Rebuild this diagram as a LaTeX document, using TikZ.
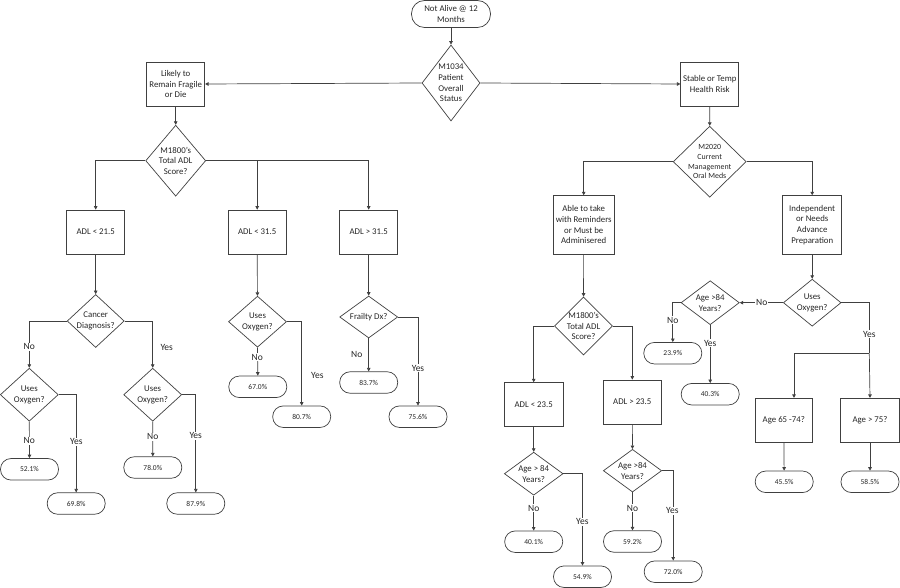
\documentclass[tikz,border=0pt]{standalone}
\usepackage{fontspec}
\setmainfont{Carlito}
\usetikzlibrary{shapes.geometric,arrows.meta}
\begin{document}
\begin{tikzpicture}[x=1pt,y=-1pt,
  line width=0.7pt, color=black!75,
  every node/.style={font=\fontsize{8.8}{10.7}\selectfont, align=center, inner sep=0pt, text=black!85},
  box/.style={draw, rectangle, minimum width=58, minimum height=44},
  dia/.style={draw, diamond, minimum width=58, minimum height=53},
  dt/.style={font=\fontsize{8.8}{10.7}\selectfont, align=center},
  dtsmall/.style={font=\fontsize{7.9}{9.7}\selectfont, align=center},
  term/.style={draw, rectangle, rounded corners=10.5, minimum width=58, minimum height=21.5, font=\fontsize{7.5}{9}\selectfont},
  arr/.style={-{Triangle[length=3.5pt,width=3.5pt]}},
  yn/.style={font=\fontsize{9.5}{11}\selectfont, fill=white, inner sep=1pt},
  ynb/.style={font=\fontsize{9.5}{11}\selectfont, inner sep=1pt}
]
\useasboundingbox (0,0) rectangle (900,588);

% ---- top ----
\node[term, minimum width=79, minimum height=27, rounded corners=13, font=\fontsize{8.8}{10.7}\selectfont] (start) at (451,14) {Not Alive @ 12\\Months};
\node[dia, minimum width=58, minimum height=76, label={[dt]center:M1034\\Patient\\Overall\\Status}] (m1034) at (451,83) {};
\node[box] (likely) at (175.7,84) {Likely to\\Remain Fragile\\or Die};
\node[box] (stable) at (709.8,84) {Stable or Temp\\Health Risk};

% ---- left half ----
\node[dia, minimum width=60, minimum height=71, label={[dt]center:M1800's\\Total ADL\\Score?}] (m1800a) at (175.7,160.7) {};
\node[box] (adl1) at (95.7,232) {ADL < 21.5};
\node[box] (adl2) at (257.2,232) {ADL < 31.5};
\node[box] (adl3) at (368.7,232) {ADL > 31.5};

\node[dia, minimum width=57, minimum height=53, label={[dt]center:Cancer\\Diagnosis?}] (cancer) at (95.7,321) {};
\node[dia, label={[dt]center:Uses\\Oxygen?}] (uo1) at (29.3,394.7) {};
\node[dia, label={[dt]center:Uses\\Oxygen?}] (uo2) at (152.7,394.7) {};
\node[term] (p521) at (29.5,469.3) {52.1\%};
\node[term] (p698) at (76.2,503.5) {69.8\%};
\node[term] (p780) at (152.8,467.5) {78.0\%};
\node[term] (p879) at (195.8,503.5) {87.9\%};

\node[dia, minimum height=51, label={[dt]center:Uses\\Oxygen?}] (uo3) at (257.5,321.7) {};
\node[term] (p670) at (257.8,386.8) {67.0\%};
\node[term] (p807) at (301.7,416.7) {80.7\%};

\node[dia, minimum height=42, label={[dt]center:Frailty Dx?}] (frail) at (368.7,317) {};
\node[term] (p837) at (368.7,382.5) {83.7\%};
\node[term] (p756) at (418,416.7) {75.6\%};

% ---- right half ----
\node[dia, minimum width=73, minimum height=71, label={[dtsmall]center:M2020\\Current\\Management\\Oral Meds}] (m2020) at (709.7,161.7) {};
\node[box, minimum width=60.7, minimum height=58.3] (able) at (583.7,224.8) {Able to take\\with Reminders\\or Must be\\Adminisered};
\node[box, minimum width=59, minimum height=58.3] (indep) at (812.2,224.8) {Independent\\or Needs\\Advance\\Preparation};

\node[dia, minimum height=58, label={[dt]center:M1800's\\Total ADL\\Score?}] (m1800b) at (583.5,326) {};
\node[box, minimum width=58.7, minimum height=43.3] (adl4) at (533.7,404.3) {ADL < 23.5};
\node[box, minimum width=58.7] (adl5) at (632.3,402) {ADL > 23.5};
\node[dia, minimum width=58.7, minimum height=43, label={[dt]center:Age > 84\\Years?}] (age1) at (533.7,473.7) {};
\node[dia, minimum width=58.3, minimum height=42.7, label={[dt]center:Age >84\\Years?}] (age2) at (632.5,470.7) {};
\node[term] (p401) at (533.7,541.7) {40.1\%};
\node[term] (p549) at (582.5,576.7) {54.9\%};
\node[term] (p592) at (632.5,541.5) {59.2\%};
\node[term] (p720) at (673.2,571.7) {72.0\%};

\node[dia, minimum width=57.7, minimum height=47, label={[dt]center:Uses\\Oxygen?}] (uo5) at (812.2,302.7) {};
\node[dia, minimum width=58.3, minimum height=44, label={[dt]center:Age >84\\Years?}] (age3) at (710.2,302.7) {};
\node[term] (p239) at (672.8,353.2) {23.9\%};
\node[term] (p403) at (710.2,394.2) {40.3\%};
\node[box, minimum width=57.7] (a6574) at (783.8,420.3) {Age 65 -74?};
\node[box, minimum width=58.6] (a75) at (870,420.3) {Age > 75?};
\node[term] (p455) at (784.2,481.8) {45.5\%};
\node[term] (p585) at (870,481.8) {58.5\%};

\coordinate (j1) at (869.3,353.3);
\coordinate (j2) at (794,353.3);

% ---- connectors ----
\draw[arr] (start) -- (m1034);
\draw[arr] (m1034.west) -- (likely.east);
\draw[arr] (m1034.east) -- (stable.west);

\draw[arr] (likely) -- (m1800a);
\draw[arr] (m1800a.west) -| (adl1.north);
\draw[arr] (m1800a.east) -| (adl2.north);
\draw[arr] (m1800a.east) -| (adl3.north);

\draw[arr] (adl1) -- (cancer);
\draw[arr] (cancer.west) -| (uo1.north);
\draw[arr] (cancer.east) -| (uo2.north);
\draw[arr] (uo1.south) -- (p521.north);
\draw[arr] (uo1.east) -| (p698.north);
\draw[arr] (uo2.south) -- (p780.north);
\draw[arr] (uo2.east) -| (p879.north);

\draw[arr] (adl2) -- (uo3);
\draw[arr] (uo3.south) -- (p670.north);
\draw[arr] (uo3.east) -| (p807.north);

\draw[arr] (adl3) -- (frail);
\draw[arr] (frail.south) -- (p837.north);
\draw[arr] (frail.east) -| (p756.north);

\draw[arr] (stable) -- (m2020);
\draw[arr] (m2020.west) -| (able.north);
\draw[arr] (m2020.east) -| (indep.north);

\draw[arr] (able) -- (m1800b);
\draw[arr] (m1800b.west) -| (adl4.north);
\draw[arr] (m1800b.east) -| (adl5.north);
\draw[arr] (adl4) -- (age1);
\draw[arr] (adl5) -- (age2);
\draw[arr] (age1.south) -- (p401.north);
\draw[arr] (age1.east) -| (p549.north);
\draw[arr] (age2.south) -- (p592.north);
\draw[arr] (age2.east) -| (p720.north);

\draw[arr] (indep) -- (uo5);
\draw[arr] (uo5.west) -- (age3.east);
\draw[arr] (age3.west) -| (p239.north);
\draw[arr] (age3.south) -- (p403.north);
\draw (uo5.east) -| (j1);
\draw[arr] (j1) -- (a75.north);
\draw (j1) -- (j2);
\draw[arr] (j2) -- (j2 |- a6574.north);
\draw[arr] (a6574) -- (p455);
\draw[arr] (a75) -- (p585);

% ---- yes / no labels ----
\node[yn] (l1) at (29.3,346.7) {No};
\node[ynb] (l2) at (166.7,347) {Yes};
\node[yn] (l3) at (29.3,440.7) {No};
\node[yn] (l4) at (76.3,441.7) {Yes};
\node[yn] (l5) at (152.7,436.7) {No};
\node[yn] (l6) at (195.7,435.7) {Yes};
\node[yn] (l7) at (257.3,357.3) {No};
\node[ynb] (l8) at (317.3,375.7) {Yes};
\node[ynb] (l9) at (356.7,354) {No};
\node[yn] (l10) at (418,368.3) {Yes};
\node[yn] (l11) at (533.7,508.3) {No};
\node[yn] (l12) at (582.3,521.7) {Yes};
\node[yn] (l13) at (632.5,508.3) {No};
\node[yn] (l14) at (672.3,510.7) {Yes};
\node[yn] (l15) at (761.7,302.7) {No};
\node[yn] (l16) at (672.7,320) {No};
\node[yn] (l17) at (710.2,343.3) {Yes};
\node[yn] (l18) at (869.3,334) {Yes};
\end{tikzpicture}
\end{document}
